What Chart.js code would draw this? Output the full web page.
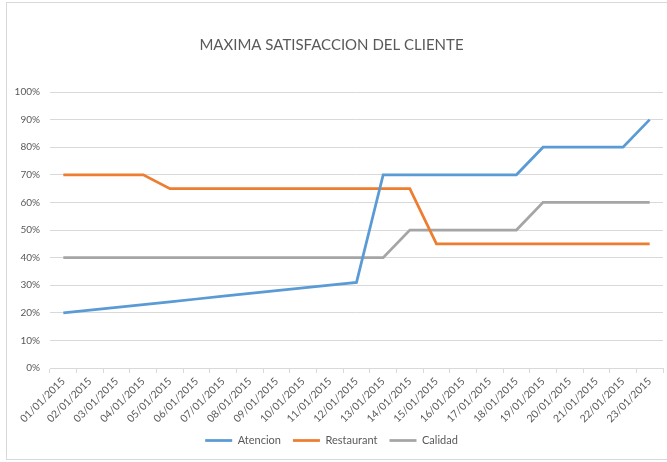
<!DOCTYPE html>
<html>
<head>
<meta charset="utf-8">
<script src="https://cdn.jsdelivr.net/npm/chart.js@4.4.0/dist/chart.umd.min.js"></script>
<style>
  html, body { margin: 0; padding: 0; background: #fff; }
  #c { display: block; }
</style>
</head>
<body>
<canvas id="c" width="667" height="462"></canvas>
<script>
const categories = ['01/01/2015','02/01/2015','03/01/2015','04/01/2015','05/01/2015','06/01/2015','07/01/2015','08/01/2015','09/01/2015','10/01/2015','11/01/2015','12/01/2015','13/01/2015','14/01/2015','15/01/2015','16/01/2015','17/01/2015','18/01/2015','19/01/2015','20/01/2015','21/01/2015','22/01/2015','23/01/2015'];
const atencion = [20,21,22,23,24,25,26,27,28,29,30,31,70,70,70,70,70,70,80,80,80,80,90];
const restaurant = [70,70,70,70,65,65,65,65,65,65,65,65,65,65,45,45,45,45,45,45,45,45,45];
const calidad = [40,40,40,40,40,40,40,40,40,40,40,40,40,50,50,50,50,50,60,60,60,60,60];
const yTicks = [0,10,20,30,40,50,60,70,80,90,100];
const chartTitle = 'MAXIMA SATISFACCION DEL CLIENTE';

const FONT = 'Lato, "Liberation Sans", sans-serif';
const TXT = '#595959';
const GRID = '#d9d9d9';

const borderPlugin = {
  id: 'outerBorder',
  beforeDraw(chart) {
    const ctx = chart.ctx;
    ctx.save();
    ctx.fillStyle = '#fff';
    ctx.fillRect(0, 0, chart.width, chart.height);
    ctx.strokeStyle = '#d9d9d9';
    ctx.lineWidth = 1;
    ctx.strokeRect(6.5, 2.5, 700, 457);
    ctx.restore();
  }
};

function ds(label, data, color) {
  return {
    label, data,
    borderColor: color, backgroundColor: color,
    borderWidth: 2.75, pointRadius: 0, pointHoverRadius: 0,
    tension: 0, fill: false
  };
}

new Chart(document.getElementById('c'), {
  type: 'line',
  data: {
    labels: categories,
    datasets: [
      ds('Atencion', atencion, '#5B9BD5'),
      ds('Restaurant', restaurant, '#ED7D31'),
      ds('Calidad', calidad, '#A5A5A5')
    ]
  },
  options: {
    responsive: false,
    animation: false,
    layout: { padding: { left: 0, right: 4, top: 4, bottom: 6 } },
    plugins: {
      title: {
        display: true, text: chartTitle, color: TXT,
        font: { family: FONT, size: 15, weight: 'normal' },
        padding: { top: 32, bottom: 38 }
      },
      legend: {
        position: 'bottom',
        labels: {
          color: TXT, font: { family: FONT, size: 11 },
          usePointStyle: true, pointStyle: 'line', pointStyleWidth: 27,
          boxHeight: 11, padding: 12
        }
      },
      tooltip: { enabled: false }
    },
    scales: {
      x: {
        type: 'category',
        offset: true,
        grid: { display: true, drawOnChartArea: false, offset: true, tickLength: 5, color: GRID },
        border: { color: GRID },
        ticks: { color: TXT, font: { family: FONT, size: 10.5 }, minRotation: 45, maxRotation: 45, autoSkip: false, padding: 2 },
        afterFit(s) { s.height = 55; }
      },
      y: {
        min: 0, max: 100,
        afterBuildTicks(s) { s.ticks = yTicks.map(v => ({ value: v })); },
        grid: { color: GRID, drawTicks: false },
        border: { display: false },
        ticks: { color: TXT, font: { family: FONT, size: 10 }, padding: 10, callback: v => v + '%' },
        afterFit(s) { s.width = 50; }
      }
    }
  },
  plugins: [borderPlugin]
});
</script>
</body>
</html>
